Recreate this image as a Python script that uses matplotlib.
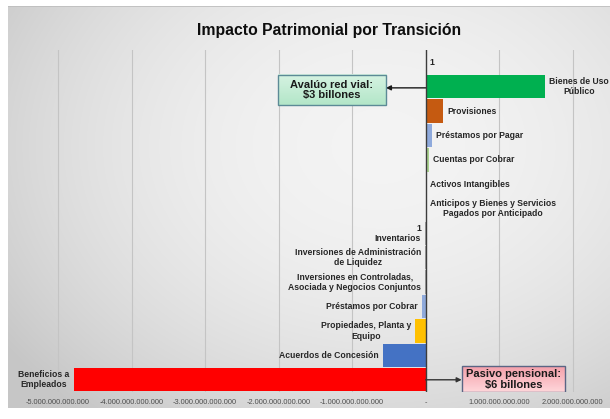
import numpy as np
import matplotlib
matplotlib.use("Agg")
import matplotlib.pyplot as plt
from matplotlib.ticker import FixedLocator, FuncFormatter

plt.rcParams["font.family"] = ["Liberation Sans", "DejaVu Sans"]

# Categories (top to bottom), their text labels, values and colours
categories = [
    "1",
    "Bienes de Uso\nPúblico",
    "Provisiones",
    "Préstamos por Pagar",
    "Cuentas por Cobrar",
    "Activos Intangibles",
    "Anticipos y Bienes y Servicios\nPagados por Anticipado",
    "1\nInventarios",
    "Inversiones de Administración\nde Liquidez",
    "Inversiones en Controladas,\nAsociada y Negocios Conjuntos",
    "Préstamos por Cobrar",
    "Propiedades, Planta y\nEquipo",
    "Acuerdos de Concesión",
    "Beneficios a\nEmpleados",
]
values = [
    1,
    1.62e12,
    0.236e12,
    0.080e12,
    0.045e12,
    3e9,
    5e9,
    -6e9,
    -3e9,
    -3e9,
    -0.054e12,
    -0.145e12,
    -0.577e12,
    -4.785e12,
]
colors = [
    "#a6a6a6", "#00b050", "#c55a11", "#8faadc", "#a9d18e", "#a6a6a6",
    "#a6a6a6", "#a6a6a6", "#a6a6a6", "#a6a6a6", "#8faadc", "#ffc000",
    "#4472c4", "#ff0000",
]
tick_values = [-5e12, -4e12, -3e12, -2e12, -1e12, 0, 1e12, 2e12]

W, H = 610, 419
fig = plt.figure(figsize=(W / 100, H / 100), dpi=100)
fig.patch.set_facecolor("white")

# Soft radial gradient behind the chart area
bg = fig.add_axes([8 / W, (H - 408) / H, (W - 8) / W, 402 / H], zorder=0)
yy, xx = np.mgrid[0:1:200j, 0:1:300j]
r2 = ((xx - 0.62) / 0.75) ** 2 + ((yy - 0.35) / 0.85) ** 2
shade = np.clip(0.955 - 0.17 * r2, 0.78, 0.96)
bg.imshow(np.dstack([shade] * 3), aspect="auto", extent=[0, 1, 1, 0],
          interpolation="bilinear")
bg.axhline(0.0, color="#bdbdbd", lw=1.2)
bg.set_xlim(0, 1)
bg.set_ylim(1, 0)
bg.axis("off")

ax = fig.add_axes([14 / W, (H - 392) / H, 586 / W, 342 / H], zorder=1)
ax.patch.set_alpha(0)

n = len(categories)
ypos = np.arange(n)
ax.barh(ypos, values, height=0.95, color=colors, zorder=3)

ax.set_xlim(-5.6e12, 2.372e12)
ax.set_ylim(n - 0.5, -0.5)

ax.xaxis.set_major_locator(FixedLocator(tick_values))


def fmt(v, _pos):
    if abs(v) < 1:
        return "-"
    s = f"{abs(v):,.0f}".replace(",", ".")
    return ("-" if v < 0 else "") + s


ax.xaxis.set_major_formatter(FuncFormatter(fmt))
ax.tick_params(axis="x", length=0, pad=5, labelsize=5.3, labelcolor="#4d4d4d")
ax.set_yticks([])
for t in tick_values:
    if t != 0:
        ax.axvline(t, color="#c4c4c4", lw=0.8, zorder=1)
ax.axvline(0, color="#3c3c3c", lw=1.0, zorder=4)
for s in ax.spines.values():
    s.set_visible(False)

# Category labels at the end of each bar
for i, (lab, v) in enumerate(zip(categories, values)):
    if v >= 0:
        ax.annotate(lab, xy=(v, i), xytext=(3, 0), textcoords="offset points",
                    ha="left", va="center", multialignment="center",
                    fontsize=6.2, fontweight="bold", color="#262626", zorder=5)
    else:
        ax.annotate(lab, xy=(v, i), xytext=(-3, 0), textcoords="offset points",
                    ha="right", va="center", multialignment="right" if i == 7 else "center",
                    fontsize=6.2, fontweight="bold", color="#262626", zorder=5)

# Callout boxes with arrows
def callout(x0, x1, y0, y1, text, top_col, bot_col, edge):
    grad = np.linspace(0, 1, 50)[:, None]
    top = np.array(matplotlib.colors.to_rgb(top_col))
    bot = np.array(matplotlib.colors.to_rgb(bot_col))
    img = top[None, None, :] * (1 - grad[..., None]) + bot[None, None, :] * grad[..., None]
    ax.imshow(img, extent=[x0, x1, y1, y0], aspect="auto", zorder=6,
              interpolation="bilinear")
    ax.add_patch(plt.Rectangle((x0, y0), x1 - x0, y1 - y0, fill=False,
                               edgecolor=edge, lw=1.0, zorder=7))
    ax.text((x0 + x1) / 2, (y0 + y1) / 2, text, ha="center", va="center",
            fontsize=8, fontweight="bold", color="#1a1a1a", zorder=8,
            linespacing=1.1)


callout(-2.01e12, -0.54e12, 0.52, 1.75, "Avalúo red vial:\n\\$3 billones",
        "#d6f3e2", "#b3e6c8", "#5c8a96")
ax.annotate("", xy=(-0.54e12, 1.05), xytext=(0, 1.05),
            arrowprops=dict(arrowstyle="-|>", color="#1a1a1a", lw=1.0,
                            mutation_scale=7, shrinkA=0, shrinkB=0), zorder=6)

callout(0.49e12, 1.90e12, 12.45, 13.5, "Pasivo pensional:\n\\$6 billones",
        "#f4a0aa", "#ffd6da", "#5a6584")
ax.annotate("", xy=(0.49e12, 13.0), xytext=(0, 13.0),
            arrowprops=dict(arrowstyle="-|>", color="#333333", lw=1.0,
                            mutation_scale=7, shrinkA=0, shrinkB=0), zorder=6)
ax.set_ylim(n - 0.5, -0.5)
ax.set_xlim(-5.6e12, 2.372e12)

fig.text(329 / W, 1 - 30 / H, "Impacto Patrimonial por Transición",
         ha="center", va="center", fontsize=11.3, fontweight="bold",
         color="#0d0d0d")

fig.savefig("out.png", dpi=100)
